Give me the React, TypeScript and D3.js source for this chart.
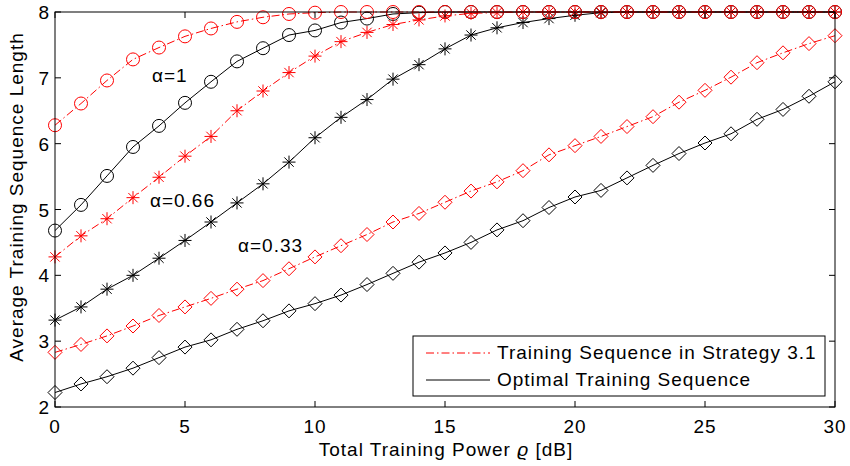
import React from "react";
import * as d3 from "d3";

const W = 850;
const H = 466;

const powerDb = d3.range(0, 31);
const xTicks = [0, 5, 10, 15, 20, 25, 30];
const yTicks = [2, 3, 4, 5, 6, 7, 8];

const strategyA1 = [6.28, 6.61, 6.96, 7.28, 7.46, 7.63, 7.75, 7.85, 7.92, 7.97, 7.99, 8, 8, 8, 8, 8, 8, 8, 8, 8, 8, 8, 8, 8, 8, 8, 8, 8, 8, 8, 8];
const optimalA1 = [4.68, 5.07, 5.51, 5.95, 6.27, 6.62, 6.94, 7.25, 7.45, 7.65, 7.72, 7.84, 7.9, 7.97, 7.99, 8, 8, 8, 8, 8, 8, 8, 8, 8, 8, 8, 8, 8, 8, 8, 8];
const strategyA066 = [4.28, 4.6, 4.86, 5.18, 5.49, 5.81, 6.11, 6.5, 6.8, 7.08, 7.33, 7.55, 7.69, 7.81, 7.88, 7.94, 7.98, 7.99, 8, 8, 8, 8, 8, 8, 8, 8, 8, 8, 8, 8, 8];
const optimalA066 = [3.32, 3.52, 3.79, 4.0, 4.26, 4.53, 4.81, 5.1, 5.39, 5.72, 6.09, 6.4, 6.67, 6.98, 7.2, 7.44, 7.65, 7.76, 7.84, 7.9, 7.95, 7.99, 8, 8, 8, 8, 8, 8, 8, 8, 8];
const strategyA033 = [2.83, 2.95, 3.08, 3.23, 3.39, 3.52, 3.65, 3.79, 3.92, 4.1, 4.28, 4.45, 4.62, 4.81, 4.94, 5.11, 5.28, 5.42, 5.59, 5.83, 5.97, 6.11, 6.26, 6.41, 6.63, 6.81, 7.01, 7.23, 7.38, 7.52, 7.64];
const optimalA033 = [2.22, 2.35, 2.46, 2.59, 2.75, 2.91, 3.02, 3.18, 3.31, 3.46, 3.57, 3.7, 3.86, 4.03, 4.2, 4.34, 4.5, 4.69, 4.83, 5.03, 5.19, 5.29, 5.48, 5.67, 5.85, 6.01, 6.15, 6.37, 6.52, 6.72, 6.94];

const legendLabels = ["Training Sequence in Strategy 3.1", "Optimal Training Sequence"];
const annotations = [
  { text: "α=1", x: 3.73, y: 6.94 },
  { text: "α=0.66", x: 3.65, y: 5.04 },
  { text: "α=0.33", x: 7.04, y: 4.35 },
];

const RED = "#ff0000";
const BLACK = "#000000";
const DASHDOT = "8,3,1.5,3";
const FONT = "'Liberation Sans', Arial, Helvetica, sans-serif";
const FS = 19;
const LS = 1;

type Series = { values: number[]; color: string; dash?: string; marker: "circle" | "star" | "diamond" };

const series: Series[] = [
  { values: optimalA1, color: BLACK, marker: "circle" },
  { values: optimalA066, color: BLACK, marker: "star" },
  { values: optimalA033, color: BLACK, marker: "diamond" },
  { values: strategyA1, color: RED, dash: DASHDOT, marker: "circle" },
  { values: strategyA066, color: RED, dash: DASHDOT, marker: "star" },
  { values: strategyA033, color: RED, dash: DASHDOT, marker: "diamond" },
];

function Marker({ kind, cx, cy, color }: { kind: string; cx: number; cy: number; color: string }) {
  if (kind === "circle") {
    return <circle cx={cx} cy={cy} r={6.5} fill="none" stroke={color} strokeWidth={1} />;
  }
  if (kind === "diamond") {
    const s = 7;
    return (
      <path
        d={`M${cx},${cy - s}L${cx + s},${cy}L${cx},${cy + s}L${cx - s},${cy}Z`}
        fill="none"
        stroke={color}
        strokeWidth={1}
      />
    );
  }
  const r = 6.5;
  const q = r * 0.72;
  return (
    <path
      d={`M${cx - r},${cy}L${cx + r},${cy}M${cx},${cy - r}L${cx},${cy + r}M${cx - q},${cy - q}L${cx + q},${cy + q}M${cx - q},${cy + q}L${cx + q},${cy - q}`}
      fill="none"
      stroke={color}
      strokeWidth={1}
    />
  );
}

export default function App() {
  const x = d3.scaleLinear().domain([0, 30]).range([55, 835]);
  const y = d3.scaleLinear().domain([2, 8]).range([407, 12]);
  const line = d3
    .line<number>()
    .x((_, i) => x(powerDb[i]))
    .y((d) => y(d));

  const [x0, x1] = x.range();
  const [y0, y1] = y.range();
  const tickLen = 6;

  const legX = 413;
  const legY = 336;

  return (
    <svg
      width={W}
      height={H}
      style={{ position: "absolute", left: 0, top: 0, background: "#fff" }}
      fontFamily={FONT}
    >
      <rect x={0} y={0} width={W} height={H} fill="#fff" />
      {series.map((s, k) => (
        <path
          key={`l${k}`}
          d={line(s.values) || ""}
          fill="none"
          stroke={s.color}
          strokeWidth={1}
          strokeDasharray={s.dash}
        />
      ))}
      {series.map((s, k) => (
        <g key={`m${k}`}>
          {s.values.map((v, i) => (
            <Marker key={i} kind={s.marker} cx={x(powerDb[i])} cy={y(v)} color={s.color} />
          ))}
        </g>
      ))}
      <rect x={x0} y={y1} width={x1 - x0} height={y0 - y1} fill="none" stroke="#000" strokeWidth={1} />
      {xTicks.map((t) => (
        <g key={`xt${t}`}>
          <line x1={x(t)} x2={x(t)} y1={y0} y2={y0 - tickLen} stroke="#000" />
          <line x1={x(t)} x2={x(t)} y1={y1} y2={y1 + tickLen} stroke="#000" />
          <text x={x(t)} y={433} fontSize={FS} letterSpacing={LS} textAnchor="middle" fill="#000">
            {t}
          </text>
        </g>
      ))}
      {yTicks.map((t) => (
        <g key={`yt${t}`}>
          <line x1={x0} x2={x0 + tickLen} y1={y(t)} y2={y(t)} stroke="#000" />
          <line x1={x1} x2={x1 - tickLen} y1={y(t)} y2={y(t)} stroke="#000" />
          <text x={49} y={y(t) + 7} fontSize={FS} textAnchor="end" fill="#000">
            {t}
          </text>
        </g>
      ))}
      <text x={446} y={456} fontSize={FS} letterSpacing={LS} textAnchor="middle" fill="#000">
        Total Training Power <tspan fontStyle="italic">ϱ</tspan> [dB]
      </text>
      <text
        transform={`translate(23,197) rotate(-90)`}
        fontSize={FS}
        letterSpacing={LS}
        textAnchor="middle"
        fill="#000"
      >
        Average Training Sequence Length
      </text>
      {annotations.map((a) => (
        <text key={a.text} x={x(a.x)} y={y(a.y)} fontSize={FS} letterSpacing={LS} fill="#000">
          {a.text}
        </text>
      ))}
      <rect x={legX} y={legY} width={412} height={60} fill="#fff" stroke="#000" strokeWidth={1} />
      <line x1={426} x2={490} y1={353} y2={353} stroke={RED} strokeDasharray={DASHDOT} />
      <line x1={426} x2={490} y1={380} y2={380} stroke={BLACK} />
      <text x={497} y={359} fontSize={FS} letterSpacing={LS} fill="#000">
        {legendLabels[0]}
      </text>
      <text x={497} y={386} fontSize={FS} letterSpacing={LS} fill="#000">
        {legendLabels[1]}
      </text>
    </svg>
  );
}
